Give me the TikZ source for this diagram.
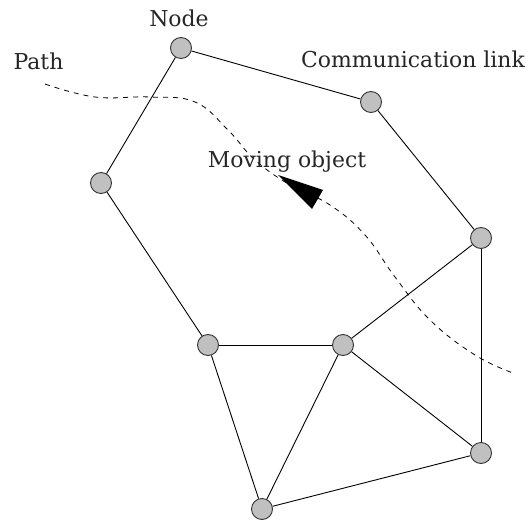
\documentclass[tikz,border=0pt]{standalone}
\usepackage{fontspec}
\setmainfont{DejaVu Serif}
\begin{document}
\begin{tikzpicture}[x=1bp,y=-1bp,
  netnode/.style={circle,draw=black!80,fill={rgb,255:red,192;green,192;blue,192},line width=0.9bp,minimum size=21bp,inner sep=0pt},
  link/.style={line width=0.9bp,black},
  lbl/.style={font=\fontsize{22}{26}\selectfont,inner sep=0pt,anchor=base,text=black!85}]
\useasboundingbox (0,0) rectangle (531,522);
% the path of the moving object
\draw[line width=0.8bp,dash pattern=on 5bp off 5bp] plot[smooth,tension=0.7] coordinates
  {(45,84) (95,97) (150,97) (195,102) (228,130) (255,160) (290,185) (330,205) (365,235) (395,277) (430,320) (475,355) (513,373)};
% network nodes
\node[netnode] (a) at (181,48) {};
\node[netnode] (b) at (371,102) {};
\node[netnode] (c) at (101,183) {};
\node[netnode] (d) at (481,238) {};
\node[netnode] (e) at (208,345) {};
\node[netnode] (f) at (343,345) {};
\node[netnode] (g) at (481,453) {};
\node[netnode] (h) at (262,509) {};
% communication links
\draw[link] (a) -- (b);
\draw[link] (a) -- (c);
\draw[link] (b) -- (d);
\draw[link] (c) -- (e);
\draw[link] (e) -- (f);
\draw[link] (f) -- (d);
\draw[link] (d) -- (g);
\draw[link] (f) -- (g);
\draw[link] (e) -- (h);
\draw[link] (f) -- (h);
\draw[link] (h) -- (g);
% moving object
\coordinate (tip) at (278,175);
\coordinate (bl) at (323,190);
\coordinate (br) at (312,209);
\fill[black] (tip) -- (bl) -- (br) -- cycle;
% labels
\node[lbl] (nodelbl) at (179,27) {Node};
\node[lbl] (pathlbl) at (38.5,70) {Path};
\node[lbl,anchor=base east] (linklbl) at (525,68) {Communication link};
\node[lbl] (objlbl) at (287,168) {Moving object};
\end{tikzpicture}
\end{document}
